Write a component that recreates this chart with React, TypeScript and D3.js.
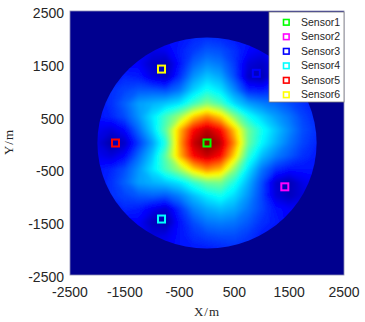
import React from "react";
import * as d3 from "d3";

// field, 250 m grid, rows from y=2000 down to y=-2000,
// columns from x=-2000 to x=2000 (jet position, 0..1)
const gridX = d3.range(-2000, 2001, 250);
const gridY = d3.range(2000, -2001, -250);
const fieldRows = [
  [.12, .12, .12, .12, .12, .13, .14, .16, .17, .16, .15, .14, .12, .12, .12, .12, .12],
  [.12, .12, .12, .12, .10, .11, .15, .18, .21, .20, .17, .13, .11, .12, .12, .12, .12],
  [.12, .12, .12, .12, .07, .05, .14, .22, .26, .24, .18, .09, .07, .11, .12, .12, .12],
  [.12, .12, .16, .15, .10, .07, .17, .27, .32, .29, .20, .07, .05, .12, .14, .12, .12],
  [.12, .17, .19, .21, .21, .20, .24, .33, .39, .35, .26, .16, .15, .17, .17, .15, .12],
  [.14, .17, .22, .28, .30, .32, .35, .43, .50, .44, .34, .28, .25, .23, .20, .17, .14],
  [.14, .16, .20, .27, .35, .44, .53, .67, .75, .67, .51, .39, .33, .28, .24, .19, .16],
  [.11, .09, .13, .23, .33, .47, .69, .87, .94, .87, .68, .48, .39, .32, .26, .20, .17],
  [.09, .04, .07, .18, .28, .41, .71, .93, 1.0, .94, .74, .48, .37, .30, .24, .19, .16],
  [.11, .09, .13, .23, .32, .47, .69, .87, .93, .87, .66, .42, .31, .25, .21, .17, .15],
  [.14, .16, .20, .27, .35, .44, .53, .66, .74, .69, .51, .35, .24, .17, .14, .14, .14],
  [.14, .17, .22, .28, .30, .32, .35, .42, .48, .49, .40, .30, .20, .08, .05, .10, .12],
  [.12, .17, .19, .21, .22, .21, .25, .31, .36, .39, .34, .27, .19, .09, .06, .09, .12],
  [.12, .12, .16, .15, .11, .08, .17, .25, .29, .31, .29, .24, .19, .14, .12, .12, .12],
  [.12, .12, .12, .12, .06, .04, .14, .20, .24, .25, .24, .21, .17, .15, .12, .12, .12],
  [.12, .12, .12, .12, .09, .10, .14, .17, .19, .20, .20, .18, .15, .12, .12, .12, .12],
  [.12, .12, .12, .12, .12, .12, .14, .15, .15, .16, .17, .16, .12, .12, .12, .12, .12],
];
const areaRadius = 2000;

const sensorNames = ["Sensor1", "Sensor2", "Sensor3", "Sensor4", "Sensor5", "Sensor6"];
const sensorX = [0, 1420, 900, -830, -1670, -830];
const sensorY = [0, -830, 1320, -1440, 0, 1400];
const sensorColors = ["#00ff00", "#ff00ff", "#0000ff", "#00ffff", "#ff0000", "#ffff00"];

const ticks = [-2500, -1500, -500, 500, 1500, 2500];

const W = 365;
const H = 322;
const left = 70, right = 344, top = 11, bottom = 275;

function jet(v: number) {
  const c = (t: number) => Math.round(255 * Math.max(0, Math.min(1, t)));
  const r = Math.min(4 * v - 1.5, -4 * v + 4.5);
  const g = Math.min(4 * v - 0.5, -4 * v + 3.5);
  const b = Math.min(4 * v + 0.5, -4 * v + 2.5);
  return `rgb(${c(r)},${c(g)},${c(b)})`;
}

export default function App() {
  const xScale = d3.scaleLinear().domain([-2500, 2500]).range([left, right]);
  const yScale = d3.scaleLinear().domain([-2500, 2500]).range([bottom, top]);

  const n = gridX.length;
  const values = fieldRows.flat();
  const step = 0.01;
  const contours = d3.contours().size([n, gridY.length]).thresholds(d3.range(0, 1.0001, step))(values);

  const proj = d3.geoTransform({
    point(px: number, py: number) {
      (this as any).stream.point(
        xScale(gridX[0] + (px - 0.5) * 250),
        yScale(gridY[0] - (py - 0.5) * 250)
      );
    },
  });
  const path = d3.geoPath(proj);

  const cx = xScale(0), cy = yScale(0);
  const rx = xScale(areaRadius) - cx;
  const ry = cy - yScale(areaRadius);

  const font = "'Liberation Sans', Arial, sans-serif";

  return (
    <svg width={W} height={H} style={{ position: "absolute", left: 0, top: 0 }}
      fontFamily={font}>
      <defs>
        <clipPath id="area">
          <ellipse cx={cx} cy={cy} rx={rx} ry={ry} />
        </clipPath>
        <filter id="soft" x="-10%" y="-10%" width="120%" height="120%">
          <feGaussianBlur stdDeviation="1.8" />
        </filter>
      </defs>
      <rect x={0} y={0} width={W} height={H} fill="#fff" />
      <rect x={left} y={top} width={right - left} height={bottom - top} fill={jet(0.015)} />
      <g clipPath="url(#area)">
        <g filter="url(#soft)">
          <rect x={left} y={top} width={right - left} height={bottom - top} fill={jet(0.12)} />
          {contours.map((c, i) => (
            <path key={i} d={path(c as any) || ""} fill={jet(c.value + step / 2)} stroke="none" />
          ))}
        </g>
      </g>
      <rect x={left} y={top} width={right - left} height={bottom - top} fill="none" stroke="#8c8cb4" strokeWidth={0.8} />

      {sensorNames.map((s, i) => (
        <rect key={s} x={xScale(sensorX[i]) - 3.5} y={yScale(sensorY[i]) - 3.5} width={7} height={7}
          fill="none" stroke={sensorColors[i]} strokeWidth={2} />
      ))}

      {ticks.map((t) => (
        <text key={"x" + t} x={xScale(t)} y={297} textAnchor="middle" fontSize={14} fill="#262626">{t}</text>
      ))}
      {ticks.map((t) => (
        <text key={"y" + t} x={64} y={yScale(t) + 2} dy="0.35em" textAnchor="end" fontSize={14} fill="#262626">{t}</text>
      ))}
      <text x={207} y={316} textAnchor="middle" fontSize={13} fontFamily="'Liberation Serif', serif" fill="#262626" letterSpacing={1}>X/m</text>
      <text transform={`translate(13,${142}) rotate(-90)`} textAnchor="middle" fontSize={13} fontFamily="'Liberation Serif', serif" fill="#262626" letterSpacing={1}>Y/m</text>

      <g>
        <rect x={269} y={12} width={75} height={90} fill="#fff" stroke="#7a7a7a" strokeWidth={0.8} />
        {sensorNames.map((s, i) => (
          <g key={s} transform={`translate(0,${22.3 + i * 14.5})`}>
            <rect x={283.5} y={-2.8} width={5.6} height={5.6} fill="none" stroke={sensorColors[i]} strokeWidth={1.6} />
            <text x={301} y={0} dy="0.35em" fontSize={10.5} fill="#262626">{s}</text>
          </g>
        ))}
      </g>
    </svg>
  );
}
